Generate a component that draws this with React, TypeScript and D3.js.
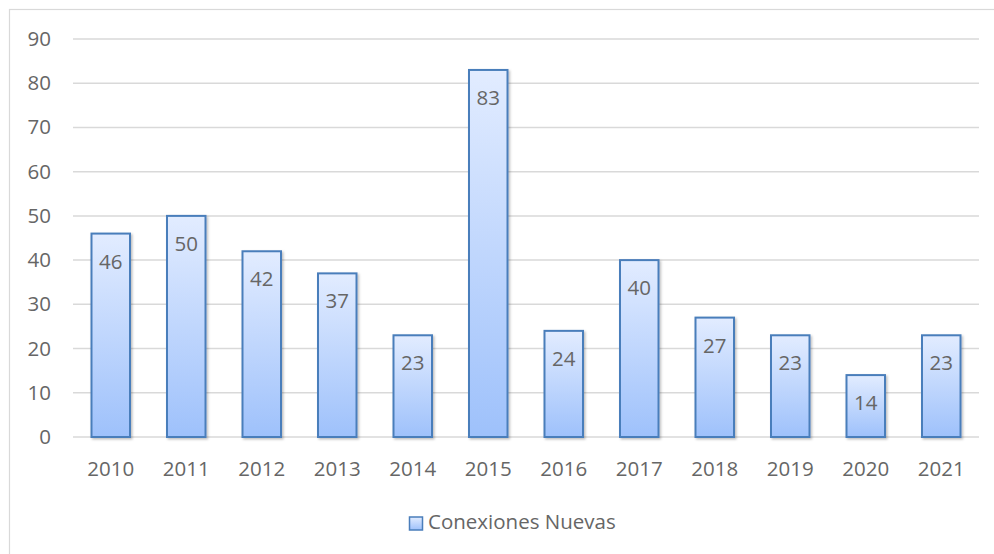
import React from 'react';
import * as d3 from 'd3';

const years = ['2010', '2011', '2012', '2013', '2014', '2015', '2016', '2017', '2018', '2019', '2020', '2021'];
const conexiones = [46, 50, 42, 37, 23, 83, 24, 40, 27, 23, 14, 23];
const yTicks = [0, 10, 20, 30, 40, 50, 60, 70, 80, 90];
const seriesName = 'Conexiones Nuevas';

const W = 994;
const H = 554;
const FONT = '"Open Sans", "Liberation Sans", sans-serif';
const TEXT = '#666666';
const FS = 20.5;

export default function App() {
  // plot area
  const left = 73, right = 979, top = 39, bottom = 437;

  const x = d3.scaleBand<string>()
    .domain(years)
    .range([left, right])
    .paddingInner(0.49)
    .paddingOuter(0.245);

  const y = d3.scaleLinear()
    .domain([0, 90])
    .range([bottom, top]);

  const bw = x.bandwidth();

  return (
    <div style={{ position: 'fixed', left: 0, top: 0 }}>
      <svg width={W} height={H} style={{ display: 'block', fontFamily: FONT }}>
        <defs>
          <linearGradient id="barFill" x1="0" y1="0" x2="0" y2="1">
            <stop offset="0%" stopColor="#e2ecff" />
            <stop offset="100%" stopColor="#9ec1fb" />
          </linearGradient>
          <filter id="shadow" x="-20%" y="-20%" width="150%" height="150%">
            <feDropShadow dx="1.5" dy="1.5" stdDeviation="1.2" floodColor="#000" floodOpacity="0.25" />
          </filter>
        </defs>

        <rect x={0} y={0} width={W} height={H} fill="#fff" />
        {/* chart frame */}
        <rect x={9.5} y={9.5} width={W + 10} height={H + 10} fill="none" stroke="#d9d9d9" strokeWidth={1.2} />

        {/* grid */}
        {yTicks.map(t => (
          <g key={t}>
            <line x1={left} x2={right} y1={y(t)} y2={y(t)} stroke="#d9d9d9" strokeWidth={1.5} />
            <text x={51} y={y(t) + 7} textAnchor="end" fontSize={FS} fill={TEXT}>{t}</text>
          </g>
        ))}

        {/* bars */}
        {conexiones.map((v, i) => (
          <rect key={years[i]}
            x={x(years[i])!}
            y={y(v)}
            width={bw}
            height={y(0) - y(v)}
            fill="url(#barFill)"
            stroke="#4a7ebb"
            strokeWidth={2}
            filter="url(#shadow)" />
        ))}

        {/* value labels */}
        {conexiones.map((v, i) => (
          <text key={'l' + years[i]}
            x={x(years[i])! + bw / 2}
            y={y(v) + 35}
            textAnchor="middle"
            fontSize={FS}
            fill={TEXT}>{v}</text>
        ))}

        {/* x labels */}
        {years.map(yr => (
          <text key={'x' + yr} x={x(yr)! + bw / 2} y={476} textAnchor="middle" fontSize={FS} fill={TEXT}>{yr}</text>
        ))}

        {/* legend */}
        <rect x={409.5} y={517} width={13} height={13} fill="url(#barFill)" stroke="#4a7ebb" strokeWidth={1.5} />
        <text x={428} y={529} fontSize={FS} fill={TEXT}>{seriesName}</text>
      </svg>
    </div>
  );
}
